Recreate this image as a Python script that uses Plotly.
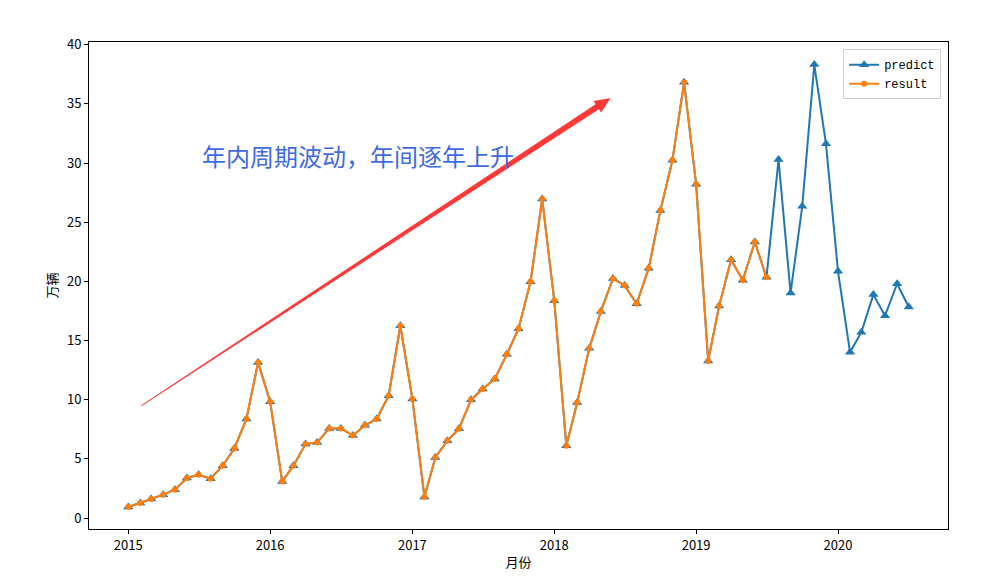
import pandas as pd
import plotly.graph_objects as go

# monthly sales, unit: 万辆
months = pd.date_range("2015-01-01", "2020-07-01", freq="MS")

predict = [
    0.93, 1.27, 1.61, 1.97, 2.39, 3.38, 3.66, 3.32, 4.42, 5.88, 8.37, 13.15,
    9.83, 3.09, 4.42, 6.25, 6.39, 7.57, 7.57, 6.98, 7.83, 8.37, 10.34, 16.25,
    10.06, 1.77, 5.12, 6.53, 7.55, 10.0, 10.9, 11.75, 13.83, 16.0, 19.97, 26.96,
    18.37, 6.11, 9.77, 14.34, 17.46, 20.25, 19.66, 18.11, 21.1, 25.98, 30.23, 36.82,
    28.2, 13.27, 17.92, 21.83, 20.09, 23.33, 20.34, 30.29, 19.02, 26.34, 38.32, 31.64,
    20.85, 14.0, 15.69, 18.88, 17.1, 19.8, 17.83,
]
result = predict[:55]  # actuals stop at 2019-07

x_range = [pd.Timestamp("2014-09-22"), pd.Timestamp("2020-10-10")]
y_range = [-0.93, 40.23]

arrow_from = (pd.Timestamp("2015-02-04"), 9.5)
arrow_to = (pd.Timestamp("2018-05-26"), 35.5)
note_text = "年内周期波动，年间逐年上升"

# the page body has an 8px margin, so the figure is laid out 8px in
W, H = 981, 563
L, T = 81, 34
pw, ph = 859, 487
R, B = W - L - pw, H - T - ph


def to_px(t, v):
    fx = (t - x_range[0]) / (x_range[1] - x_range[0])
    fy = (v - y_range[0]) / (y_range[1] - y_range[0])
    return fx * pw, fy * ph


def to_paper(px, py):
    return px / pw, py / ph


def wedge_arrow(p0, p1, w0=0.5, w1=3.0, head_len=16, head_w=7):
    x0, y0 = to_px(*p0)
    x1, y1 = to_px(*p1)
    dx, dy = x1 - x0, y1 - y0
    n = (dx ** 2 + dy ** 2) ** 0.5
    ux, uy = dx / n, dy / n
    nx, ny = -uy, ux
    bx, by = x1 - head_len * ux, y1 - head_len * uy
    pts = [
        (x0 + w0 * nx, y0 + w0 * ny),
        (bx + w1 * nx, by + w1 * ny),
        (bx + head_w * nx, by + head_w * ny),
        (x1, y1),
        (bx - head_w * nx, by - head_w * ny),
        (bx - w1 * nx, by - w1 * ny),
        (x0 - w0 * nx, y0 - w0 * ny),
    ]
    pts = [to_paper(*p) for p in pts]
    return "M " + " L ".join(f"{a:.5f},{b:.5f}" for a, b in pts) + " Z"


fig = go.Figure()
fig.add_trace(go.Scatter(
    x=months, y=predict, name="predict", mode="lines+markers",
    line=dict(color="#1f77b4", width=2),
    marker=dict(symbol="triangle-up", size=9, color="#1f77b4"),
))
fig.add_trace(go.Scatter(
    x=months[:len(result)], y=result, name="result", mode="lines+markers",
    line=dict(color="#ff7f0e", width=2),
    marker=dict(symbol="circle", size=6, color="#ff7f0e"),
))

fig.add_shape(
    type="path", xref="paper", yref="paper",
    path=wedge_arrow(arrow_from, arrow_to),
    fillcolor="rgba(255,0,0,0.78)", line=dict(width=0),
)
fig.add_annotation(
    x=pd.Timestamp("2015-07-05"), y=30.6, text=note_text,
    showarrow=False, xanchor="left", yanchor="middle",
    font=dict(size=24, color="royalblue", family="Noto Sans CJK SC"),
)

axis_style = dict(
    showline=True, linecolor="black", linewidth=1, mirror=True,
    ticks="outside", ticklen=4, tickcolor="black",
    showgrid=False, zeroline=False,
    tickfont=dict(size=13, color="black"),
)
fig.update_xaxes(
    range=x_range, tickformat="%Y", dtick="M12", tick0="2015-01-01",
    title=dict(text="月份", font=dict(size=13), standoff=6),
    **axis_style,
)
fig.update_yaxes(
    range=y_range, tickvals=[0, 5, 10, 15, 20, 25, 30, 35, 40],
    title=dict(text="万辆", font=dict(size=13), standoff=6),
    **axis_style,
)

fig.update_layout(
    width=W, height=H, autosize=False,
    margin=dict(l=L, r=R, t=T, b=B, autoexpand=False),
    plot_bgcolor="white", paper_bgcolor="white",
    font=dict(family="Noto Sans CJK SC, DejaVu Sans", color="black"),
    legend=dict(
        x=0.992, y=0.985, xanchor="right", yanchor="top",
        bgcolor="white", bordercolor="#cccccc", borderwidth=1,
        font=dict(family="Liberation Mono", size=12),
        tracegroupgap=0, itemwidth=30,
    ),
)

fig.write_html("out.html")
